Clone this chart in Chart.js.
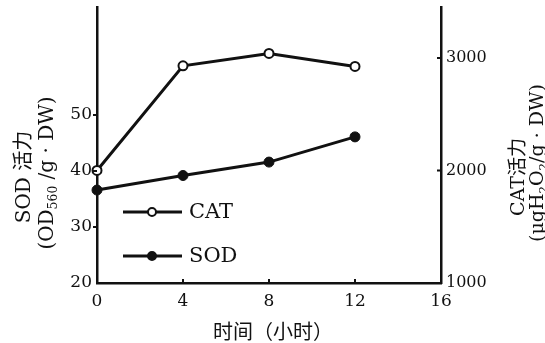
<!DOCTYPE html>
<html>
<head>
<meta charset="utf-8">
<script src="https://cdn.jsdelivr.net/npm/chart.js@4.4.1/dist/chart.umd.min.js"></script>
<style>
  html, body { margin: 0; padding: 0; background: #fff; }
  #wrap { width: 545px; height: 343px; position: relative; }
</style>
</head>
<body>
<div id="wrap"><canvas id="chart"></canvas></div>
<script>
// 데이터
const hours = [0, 4, 8, 12];
const catValues = [2000, 2930, 3040, 2925];   // 오른쪽 축
const sodValues = [36.6, 39.2, 41.6, 46.1];   // 왼쪽 축
const xTicks = [0, 4, 8, 12, 16];
const sodTicks = [20, 30, 40, 50];
const catTicks = [1000, 2000, 3000];

const SERIF = "'DejaVu Serif', 'Noto Sans CJK SC', serif";
const INK = "#111";

// 아래첨자 섞인 텍스트 그리기
function drawRuns(ctx, runs, size, cx, cy) {
    const parts = runs.map((r) => {
        const fs = r.sub ? size * 0.62 : size;
        ctx.font = `${fs}px ${SERIF}`;
        return { ...r, fs, w: ctx.measureText(r.t).width };
    });
    const total = parts.reduce((a, p) => a + p.w, 0);
    let x = cx - total / 2;
    ctx.textAlign = "left";
    ctx.textBaseline = "middle";
    parts.forEach((p) => {
        ctx.font = `${p.fs}px ${SERIF}`;
        ctx.fillText(p.t, x, cy + (p.sub ? size * 0.3 : 0));
        x += p.w;
    });
}

function rotatedRuns(ctx, runs, size, cx, cy) {
    ctx.save();
    ctx.translate(cx, cy);
    ctx.rotate(-Math.PI / 2);
    drawRuns(ctx, runs, size, 0, 0);
    ctx.restore();
}

const decor = {
    id: "decor",
    afterDraw(chart) {
        const { ctx, chartArea: a, scales } = chart;
        ctx.save();
        ctx.fillStyle = INK;
        ctx.strokeStyle = INK;
        ctx.lineWidth = 2;

        // 눈금 표시
        ctx.beginPath();
        sodTicks.slice(1).forEach((v) => {
            const y = scales.y.getPixelForValue(v);
            ctx.moveTo(a.left, y);
            ctx.lineTo(a.left - 4, y);
        });
        catTicks.slice(1).forEach((v) => {
            const y = scales.y1.getPixelForValue(v);
            ctx.moveTo(a.right, y);
            ctx.lineTo(a.right - 4, y);
        });
        xTicks.slice(1, -1).forEach((v) => {
            const x = scales.x.getPixelForValue(v);
            ctx.moveTo(x, a.bottom);
            ctx.lineTo(x, a.bottom - 4);
        });
        ctx.stroke();

        // 범례
        const items = [
            { label: "CAT", fill: "#fff", y: 212 },
            { label: "SOD", fill: INK, y: 256 },
        ];
        items.forEach((it) => {
            ctx.lineWidth = 3;
            ctx.beginPath();
            ctx.moveTo(123, it.y);
            ctx.lineTo(182, it.y);
            ctx.stroke();
            ctx.beginPath();
            ctx.arc(152, it.y, 4, 0, Math.PI * 2);
            ctx.fillStyle = it.fill;
            ctx.fill();
            ctx.lineWidth = 2;
            ctx.stroke();
            ctx.fillStyle = INK;
            ctx.font = `21px ${SERIF}`;
            ctx.textAlign = "left";
            ctx.textBaseline = "middle";
            ctx.fillText(it.label, 189, it.y + 1);
        });

        // 왼쪽 축 제목
        rotatedRuns(ctx, [{ t: "SOD 活力" }], 20, 25, 177);
        rotatedRuns(ctx, [{ t: "(OD" }, { t: "560", sub: true }, { t: " /g · DW)" }], 20, 48, 173);

        // 오른쪽 축 제목
        rotatedRuns(ctx, [{ t: "CAT活力" }], 19, 519, 177);
        rotatedRuns(ctx, [
            { t: "(μgH" }, { t: "2", sub: true }, { t: "O" }, { t: "2", sub: true }, { t: "/g · DW)" },
        ], 19, 538, 163);

        // x축 제목
        ctx.font = `20px 'Noto Sans CJK SC', sans-serif`;
        ctx.textAlign = "center";
        ctx.textBaseline = "middle";
        ctx.fillText("时间（小时）", 273, 331);

        ctx.restore();
    },
};

const noPad = (s) => {
    s.paddingTop = 0;
    s.paddingBottom = 0;
};

const ctx = document.getElementById("chart").getContext("2d");

const chart = new Chart(ctx, {
    type: "line",
    data: {
        datasets: [
            {
                label: "CAT",
                data: hours.map((h, i) => ({ x: h, y: catValues[i] })),
                yAxisID: "y1",
                borderColor: INK,
                borderWidth: 3,
                pointRadius: 4.5,
                pointBorderWidth: 2,
                pointBackgroundColor: "#fff",
                pointBorderColor: INK,
                tension: 0,
                clip: false,
            },
            {
                label: "SOD",
                data: hours.map((h, i) => ({ x: h, y: sodValues[i] })),
                yAxisID: "y",
                borderColor: INK,
                borderWidth: 3,
                pointRadius: 5,
                pointBorderWidth: 1,
                pointBackgroundColor: INK,
                pointBorderColor: INK,
                tension: 0,
                clip: false,
            },
        ],
    },
    options: {
        responsive: true,
        maintainAspectRatio: false,
        animation: false,
        layout: { padding: { top: 7, left: 0, right: 0, bottom: 0 } },
        plugins: {
            legend: { display: false },
            tooltip: { enabled: false },
        },
        scales: {
            x: {
                type: "linear",
                min: 0,
                max: 16,
                afterBuildTicks: (s) => { s.ticks = xTicks.map((v) => ({ value: v })); },
                afterFit: (s) => { s.height = 60; s.paddingLeft = 0; s.paddingRight = 0; },
                grid: { drawOnChartArea: false, drawTicks: false },
                border: { color: INK, width: 2.5 },
                ticks: { color: INK, padding: 8, font: { family: SERIF, size: 17 }, callback: (v) => String(v) },
            },
            y: {
                position: "left",
                min: 20,
                max: 69.3,
                afterBuildTicks: (s) => { s.ticks = sodTicks.map((v) => ({ value: v })); },
                afterFit: (s) => { s.width = 97; noPad(s); },
                grid: { drawOnChartArea: false, drawTicks: false },
                border: { color: INK, width: 2.5 },
                ticks: { color: INK, padding: 5, font: { family: SERIF, size: 17 }, callback: (v) => String(v) },
            },
            y1: {
                position: "right",
                min: 1000,
                max: 3453,
                afterBuildTicks: (s) => { s.ticks = catTicks.map((v) => ({ value: v })); },
                afterFit: (s) => { s.width = 104; noPad(s); },
                grid: { drawOnChartArea: false, drawTicks: false },
                border: { color: INK, width: 2.5 },
                ticks: { color: INK, padding: 5, font: { family: SERIF, size: 16 }, callback: (v) => String(v) },
            },
        },
    },
    plugins: [decor],
});
</script>
</body>
</html>
